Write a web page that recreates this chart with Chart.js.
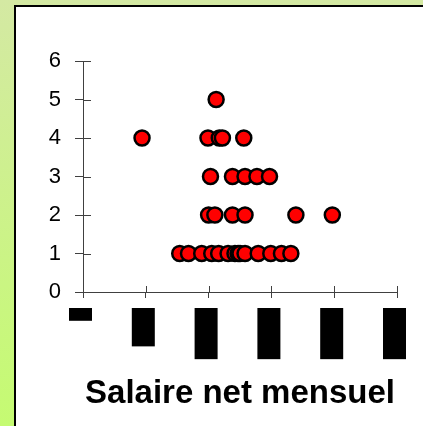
<!DOCTYPE html>
<html lang="fr">
  <head>
    <meta charset="UTF-8" />
    <title>Salaire net mensuel</title>
  </head>

  <style>
    html,
    body {
      margin: 0;
      padding: 0;
      width: 423px;
      height: 426px;
      overflow: hidden;
      background: linear-gradient(to bottom, #d4e9a3, #c5fb72);
    }

    #cadre {
      position: absolute;
      left: 14px;
      top: 5px;
      width: 420px;
      height: 430px;
      background: #ffffff;
      border-left: 2px solid #000;
      border-top: 2px solid #000;
    }

    #zone {
      position: absolute;
      left: 0;
      top: 0;
      width: 423px;
      height: 426px;
    }
  </style>

  <body>
    <div id="cadre"></div>
    <div id="zone"><canvas id="chart_id"></canvas></div>
    <script src="https://cdn.jsdelivr.net/npm/chart.js@4.4.1/dist/chart.umd.min.js"></script>
    <script>
      // valeurs (salaire, nombre)
      const salaire1 = [770, 840, 945, 1025, 1080, 1155, 1210, 1235, 1250, 1290, 1395, 1495, 1580, 1655];
      const salaire2 = [1000, 1050, 1190, 1290, 1695, 1985];
      const salaire3 = [1015, 1190, 1290, 1385, 1485];
      const salaire4 = [470, 995, 1085, 1110, 1280];
      const salaire5 = [1060];
      const rangs = [1, 2, 3, 4, 5];

      const xTickLabels = ["0", "500", "1000", "1500", "2000", "2500"];
      const yTickLabels = ["0", "1", "2", "3", "4", "5", "6"];

      const lignes = [salaire1, salaire2, salaire3, salaire4, salaire5];
      let points = [];
      lignes.forEach(function (ligne, i) {
        ligne.forEach(function (s) {
          points.push({ x: s, y: rangs[i] });
        });
      });

      // petits traits de graduation qui traversent les axes
      const traitsInterieurs = {
        id: "traitsInterieurs",
        beforeDatasetsDraw(chart) {
          const { ctx, chartArea, scales } = chart;
          ctx.save();
          ctx.strokeStyle = "#404040";
          ctx.lineWidth = 1;
          ctx.beginPath();
          scales.y.ticks.forEach(function (t) {
            let py = Math.round(scales.y.getPixelForValue(t.value)) + 0.5;
            ctx.moveTo(chartArea.left, py);
            ctx.lineTo(chartArea.left + 8, py);
          });
          scales.x.ticks.forEach(function (t) {
            let px = Math.round(scales.x.getPixelForValue(t.value)) + 0.5;
            ctx.moveTo(px, chartArea.bottom);
            ctx.lineTo(px, chartArea.bottom - 6);
          });
          ctx.stroke();
          ctx.restore();
        },
      };

      let ctx = document.getElementById("chart_id").getContext("2d");

      let chart = new Chart(ctx, {
        type: "scatter",
        data: {
          datasets: [
            {
              data: points,
              backgroundColor: "#ff0000",
              borderColor: "#000000",
              borderWidth: 2.5,
              pointRadius: 7.5,
              pointHoverRadius: 7.5,
            },
          ],
        },
        options: {
          animation: false,
          responsive: true,
          maintainAspectRatio: false,
          layout: { padding: { left: 43, right: 26, top: 61, bottom: 12 } },
          plugins: {
            legend: { display: false },
            tooltip: { enabled: false },
          },
          scales: {
            x: {
              type: "linear",
              min: 0,
              max: 2500,
              afterFit(scale) {
                scale.height = 122;
                scale.paddingRight = 0;
                scale.paddingLeft = 0;
              },
              border: { color: "#404040", width: 1 },
              grid: { drawOnChartArea: false, tickLength: 6, color: "#404040" },
              ticks: {
                stepSize: 500,
                minRotation: 90,
                maxRotation: 90,
                padding: 10,
                labelOffset: -14,
                color: "#000",
                font: { family: "Arial, 'Liberation Sans', sans-serif", size: 23, lineHeight: 1 },
                showLabelBackdrop: true,
                backdropColor: "#000",
                backdropPadding: 0,
                callback: function (v, i) {
                  return xTickLabels[i];
                },
              },
              title: {
                display: true,
                text: "Salaire net mensuel",
                color: "#000",
                padding: { top: 0, bottom: 0 },
                font: { family: "Arial, 'Liberation Sans', sans-serif", size: 33, weight: "bold" },
              },
            },
            y: {
              min: 0,
              max: 6,
              afterFit(scale) {
                scale.width = 40;
              },
              border: { color: "#404040", width: 1 },
              grid: { drawOnChartArea: false, tickLength: 8, color: "#404040" },
              ticks: {
                stepSize: 1,
                padding: 14,
                color: "#000",
                font: { family: "Arial, 'Liberation Sans', sans-serif", size: 22 },
                callback: function (v, i) {
                  return yTickLabels[i];
                },
              },
            },
          },
        },
        plugins: [traitsInterieurs],
      });
    </script>
  </body>
</html>
